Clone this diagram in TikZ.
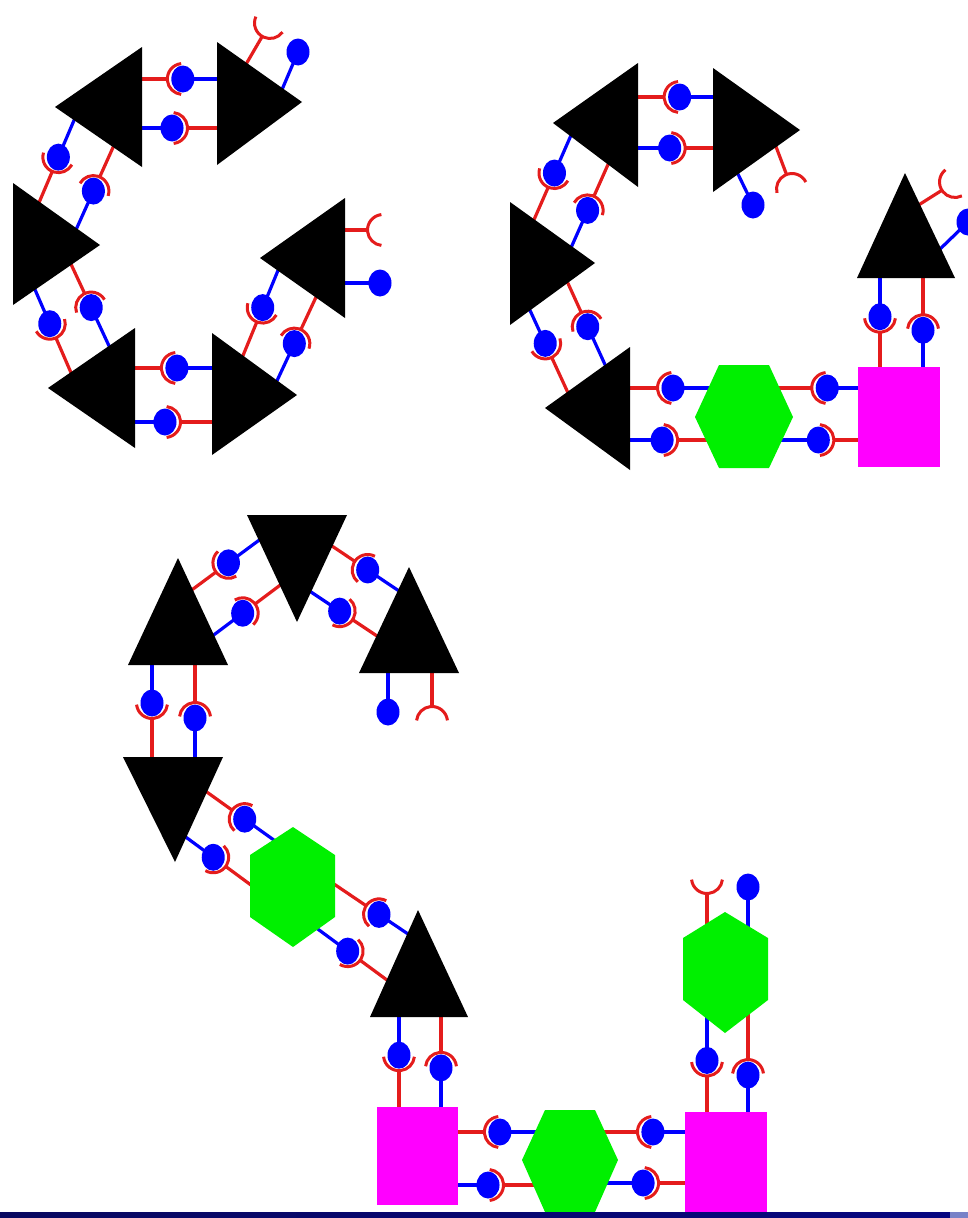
\documentclass[tikz,border=0pt]{standalone}
\usetikzlibrary{calc}
\definecolor{stickred}{RGB}{228,28,28}
\definecolor{ballblue}{RGB}{0,0,255}
\definecolor{hexgreen}{RGB}{0,240,0}
\definecolor{boxpink}{RGB}{255,0,255}
\definecolor{barnavy}{RGB}{8,8,96}
\definecolor{barlight}{RGB}{120,130,200}

\tikzset{
  redstick/.style={draw=stickred, line width=3.2pt},
  bluestick/.style={draw=ballblue, line width=3.2pt},
  cupline/.style={draw=stickred, line width=3pt},
  ballfill/.style={fill=ballblue},
  tri/.style={fill=black},
  hexa/.style={fill=hexgreen},
  box/.style={fill=boxpink}
}
% ball on a blue stick, from #1 to #2
\newcommand\knob[2]{%
  \draw[bluestick] (#1) -- (#2);
  \fill[ballfill] (#2) ellipse [x radius=11.5pt, y radius=13.5pt];}
% red stick from #1 ending in a cup round #2
\newcommand\socket[2]{%
  \pgfmathanglebetweenpoints{\pgfpointanchor{#2}{center}}{\pgfpointanchor{#1}{center}}%
  \edef\cupang{\pgfmathresult}%
  \draw[redstick] (#1) -- ($(#2)!15.5pt!(#1)$);
  \draw[cupline, shift={(#2)}, rotate=\cupang] (-84:15.5pt) arc [start angle=-84, end angle=84, radius=15.5pt];}
% bond #1: blue end #2, red end #3, ball at #4 of the way
\newcommand\bond[4]{%
  \coordinate (#1b) at (#2); \coordinate (#1r) at (#3);
  \coordinate (#1m) at ($(#1b)!#4!(#1r)$);
  \knob{#1b}{#1m}\socket{#1r}{#1m}}
% loose ends
\newcommand\freeknob[3]{\coordinate (#1a) at (#2); \coordinate (#1e) at (#3); \knob{#1a}{#1e}}
\newcommand\freesocket[3]{\coordinate (#1a) at (#2); \coordinate (#1e) at (#3); \socket{#1a}{#1e}}

\begin{document}
\begin{tikzpicture}[x=1pt,y=-1pt]
	\useasboundingbox (0,0) rectangle (968,1218);
	% ring of six, top left
	\bond{l1}{221,79}{138,79}{0.46}
	\bond{l2}{138,128}{221,128}{0.41}
	\bond{l3}{75,118}{38,205}{0.45}
	\bond{l4}{75,232}{115,143}{0.46}
	\bond{l5}{110,348}{70,262}{0.47}
	\bond{l6}{33,285}{72,375}{0.43}
	\bond{l7}{216,368}{131,368}{0.46}
	\bond{l8}{131,422}{216,422}{0.40}
	\bond{l9}{279,268}{242,358}{0.44}
	\bond{l10}{275,385}{317,295}{0.46}
	\freesocket{ls1}{245,66}{270,23}
	\freeknob{lk1}{281,92}{298,52}
	\freesocket{ls2}{341,230}{383,230}
	\freeknob{lk2}{341,283}{380,283}
	\fill[tri] (142,47)--(142,167)--(55,107)--cycle;
	\fill[tri] (217,42)--(217,165)--(302,102)--cycle;
	\fill[tri] (13,183)--(13,305)--(100,245)--cycle;
	\fill[tri] (345,198)--(345,318)--(260,258)--cycle;
	\fill[tri] (135,328)--(135,448)--(48,388)--cycle;
	\fill[tri] (212,333)--(212,455)--(297,395)--cycle;
	% chain, top right
	\bond{m1}{717,97}{634,97}{0.45}
	\bond{m2}{634,148}{717,148}{0.43}
	\bond{m3}{572,133}{533,222}{0.45}
	\bond{m4}{570,250}{610,160}{0.44}
	\bond{m5}{607,369}{566,279}{0.47}
	\bond{m6}{528,306}{569,395}{0.42}
	\bond{m7}{713,388}{626,388}{0.46}
	\bond{m8}{626,440}{710,440}{0.43}
	\bond{m9}{862,388}{775,388}{0.40}
	\bond{m10}{778,440}{862,440}{0.48}
	\bond{m11}{880,274}{880,371}{0.44}
	\bond{m12}{923,371}{923,274}{0.42}
	\freesocket{ms1}{775,144}{792,189}
	\freeknob{mk1}{736,170}{753,205}
	\freesocket{ms2}{917,206}{955,182}
	\freeknob{mk2}{937,252}{968,222}
	\fill[tri] (638,63)--(638,187)--(553,123)--cycle;
	\fill[tri] (713,68)--(713,192)--(800,130)--cycle;
	\fill[tri] (510,202)--(510,325)--(595,263)--cycle;
	\fill[tri] (630,347)--(630,470)--(545,408)--cycle;
	\fill[tri] (857,278)--(955,278)--(905,173)--cycle;
	\fill[hexa] (695,417)--(719,365)--(769,365)--(793,417)--(769,468)--(719,468)--cycle;
	\fill[box] (858,367) rectangle (940,467);
	% long chain, bottom
	\bond{n1}{262,538}{189,592}{0.46}
	\bond{n2}{211,637}{283,583}{0.44}
	\bond{n3}{402,593}{329,544}{0.47}
	\bond{n4}{308,590}{380,638}{0.44}
	\bond{n5}{152,661}{152,761}{0.42}
	\bond{n6}{195,761}{195,661}{0.43}
	\bond{n7}{278,843}{204,790}{0.45}
	\bond{n8}{183,835}{255,888}{0.42}
	\bond{n9}{411,936}{331,882}{0.40}
	\bond{n10}{315,927}{391,983}{0.43}
	\bond{n11}{399,1013}{399,1111}{0.43}
	\bond{n12}{441,1111}{441,1013}{0.44}
	\bond{n13}{539,1132}{454,1132}{0.46}
	\bond{n14}{454,1185}{537,1185}{0.41}
	\bond{n15}{689,1132}{601,1132}{0.41}
	\bond{n16}{604,1183}{689,1183}{0.46}
	\bond{n17}{707,1015}{707,1116}{0.45}
	\bond{n18}{748,1116}{748,1011}{0.39}
	\freeknob{nk1}{388,669}{388,712}
	\freesocket{ns1}{432,669}{432,722}
	\freesocket{ns2}{707,927}{707,878}
	\freeknob{nk2}{748,930}{748,887}
	\fill[tri] (128,665)--(228,665)--(178,558)--cycle;
	\fill[tri] (247,515)--(347,515)--(297,622)--cycle;
	\fill[tri] (359,673)--(459,673)--(409,567)--cycle;
	\fill[tri] (123,757)--(223,757)--(175,862)--cycle;
	\fill[tri] (370,1017)--(468,1017)--(418,910)--cycle;
	\fill[hexa] (293,827)--(335,855)--(335,917)--(293,947)--(250,917)--(250,855)--cycle;
	\fill[hexa] (522,1160)--(545,1110)--(595,1110)--(618,1160)--(595,1212)--(545,1212)--cycle;
	\fill[hexa] (725,912)--(768,938)--(768,1000)--(725,1033)--(683,1000)--(683,938)--cycle;
	\fill[box] (377,1107) rectangle (458,1205);
	\fill[box] (685,1112) rectangle (767,1212);
	% bar along the foot
	\shade[left color=barnavy, right color=barnavy!80!blue] (0,1212) rectangle (950,1218);
	\fill[barlight] (950,1212) rectangle (968,1218);
\end{tikzpicture}
\end{document}
